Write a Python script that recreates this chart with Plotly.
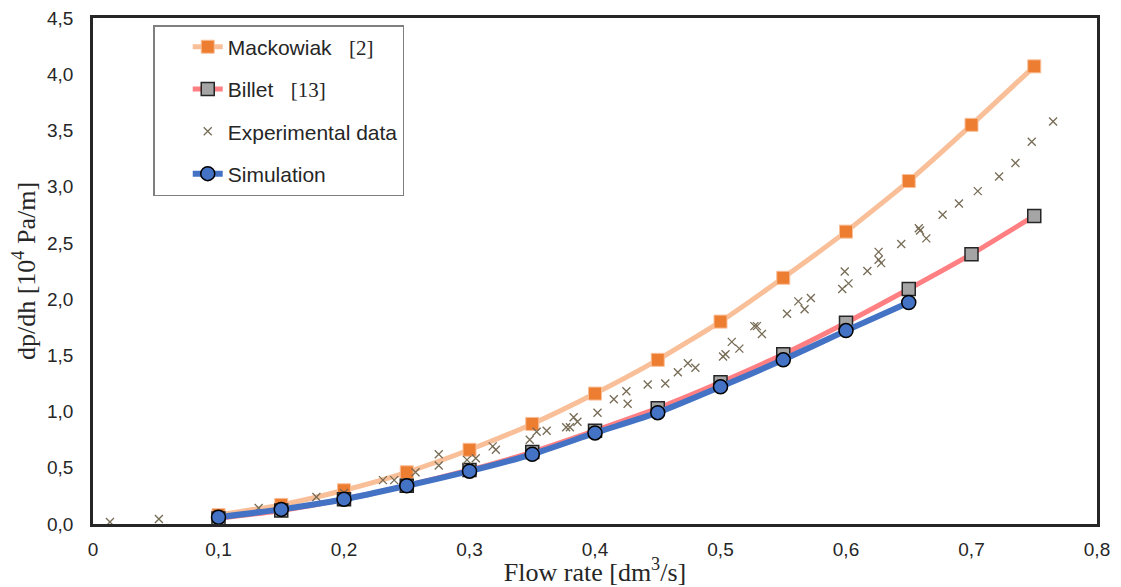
import plotly.graph_objects as go

# ---- data ----
flow = [0.10, 0.15, 0.20, 0.25, 0.30, 0.35, 0.40, 0.45, 0.50, 0.55, 0.60, 0.65, 0.70, 0.75]
mackowiak = [0.08, 0.17, 0.30, 0.46, 0.66, 0.89, 1.16, 1.46, 1.80, 2.19, 2.60, 3.05, 3.55, 4.07]
billet = [0.05, 0.12, 0.22, 0.34, 0.48, 0.64, 0.83, 1.03, 1.26, 1.51, 1.79, 2.09, 2.40, 2.74]

sim_flow = [0.10, 0.15, 0.20, 0.25, 0.30, 0.35, 0.40, 0.45, 0.50, 0.55, 0.60, 0.65]
simulation = [0.06, 0.13, 0.22, 0.34, 0.47, 0.62, 0.81, 0.99, 1.22, 1.46, 1.72, 1.97]

exp_flow = [0.0135, 0.0525, 0.0995, 0.132, 0.178, 0.200, 0.231, 0.240, 0.257, 0.2755,
            0.2755, 0.298, 0.305, 0.3185, 0.321, 0.348, 0.3535, 0.3615, 0.377, 0.380,
            0.383, 0.386, 0.402, 0.415, 0.425, 0.426, 0.442, 0.456, 0.466, 0.474,
            0.480, 0.502, 0.504, 0.509, 0.515, 0.527, 0.529, 0.533, 0.553, 0.562,
            0.567, 0.572, 0.597, 0.602, 0.599, 0.617, 0.626, 0.626, 0.628, 0.644,
            0.658, 0.659, 0.664, 0.677, 0.690, 0.705, 0.722, 0.735, 0.748, 0.765]
exp_dp = [0.018, 0.044, 0.089, 0.142, 0.24, 0.275, 0.39, 0.39, 0.46, 0.62,
          0.52, 0.57, 0.585, 0.69, 0.66, 0.75, 0.82, 0.83, 0.86, 0.86,
          0.95, 0.91, 0.99, 1.11, 1.18, 1.07, 1.24, 1.25, 1.35, 1.43,
          1.39, 1.49, 1.51, 1.62, 1.56, 1.76, 1.76, 1.69, 1.87, 1.98,
          1.91, 2.01, 2.09, 2.14, 2.245, 2.25, 2.42, 2.35, 2.32, 2.49,
          2.63, 2.61, 2.54, 2.75, 2.85, 2.96, 3.09, 3.21, 3.40, 3.58]

x_ticks = [0, 0.1, 0.2, 0.3, 0.4, 0.5, 0.6, 0.7, 0.8]
x_ticklabels = ["0", "0,1", "0,2", "0,3", "0,4", "0,5", "0,6", "0,7", "0,8"]
y_ticks = [0, 0.5, 1.0, 1.5, 2.0, 2.5, 3.0, 3.5, 4.0, 4.5]
y_ticklabels = ["0,0", "0,5", "1,0", "1,5", "2,0", "2,5", "3,0", "3,5", "4,0", "4,5"]

serif = "Liberation Serif, Times New Roman, serif"
sans = "Liberation Sans, Arial, sans-serif"
ink = "#262626"

fig = go.Figure()
fig.add_trace(go.Scatter(
    x=flow, y=mackowiak, mode="lines+markers", legendgroup="a",
    name="Mackowiak   <span style='font-family:Liberation Serif'>[2]</span>",
    line=dict(color="#F8BF98", width=5, shape="spline", smoothing=0.5),
    marker=dict(symbol="square", size=13, color="#ED7D31", line=dict(color="#F8BF98", width=1))))
fig.add_trace(go.Scatter(
    x=flow, y=billet, mode="lines+markers", legendgroup="b",
    name="Billet   <span style='font-family:Liberation Serif'>[13]</span>",
    line=dict(color="#FF7F83", width=5, shape="spline", smoothing=0.5),
    marker=dict(symbol="square", size=13, color="#A5A5A5", line=dict(color=ink, width=1.5))))
fig.add_trace(go.Scatter(
    x=exp_flow, y=exp_dp, mode="markers", legendgroup="c",
    name="Experimental data",
    marker=dict(symbol="x-thin", size=8, color="#766B55", line=dict(color="#766B55", width=1.3))))
fig.add_trace(go.Scatter(
    x=sim_flow, y=simulation, mode="lines+markers", legendgroup="d",
    name="Simulation",
    line=dict(color="#4472C4", width=6, shape="spline", smoothing=0.5),
    marker=dict(symbol="circle", size=14, color="#4472C4", line=dict(color="#000000", width=1.5))))

axis_common = dict(showgrid=False, zeroline=False, showline=True, mirror=True,
                   linecolor=ink, linewidth=2.5, ticks="", automargin=False,
                   ticklabeloverflow="allow")

fig.update_xaxes(range=[0, 0.8], tickvals=x_ticks, ticktext=x_ticklabels,
                 tickfont=dict(family=sans, size=19, color=ink),
                 title=dict(text="Flow rate [dm<sup>3</sup>/s]", font=dict(family=serif, size=26, color=ink),
                            standoff=0),
                 ticklabelstandoff=6, **axis_common)
fig.update_yaxes(range=[0, 4.5], tickvals=y_ticks, ticktext=y_ticklabels,
                 tickfont=dict(family=sans, size=19, color=ink),
                 title=dict(text="dp/dh [10<sup>4</sup> Pa/m]", font=dict(family=serif, size=26, color=ink),
                            standoff=6),
                 ticklabelstandoff=13, **axis_common)

# the page body adds an 8 px margin, so the figure is sized to fill the remaining window
fig.update_layout(
    width=1113, height=579,
    margin=dict(l=85, r=24, t=10, b=63),
    plot_bgcolor="white", paper_bgcolor="white",
    separators=", ",
    showlegend=True,
    legend=dict(x=0.06, y=0.986, xanchor="left", yanchor="top",
                bgcolor="white", bordercolor="#7F7F7F", borderwidth=1.5,
                font=dict(family=sans, size=21, color=ink),
                tracegroupgap=12, traceorder="grouped", indentation=33),
)

fig.write_html("out.html")
